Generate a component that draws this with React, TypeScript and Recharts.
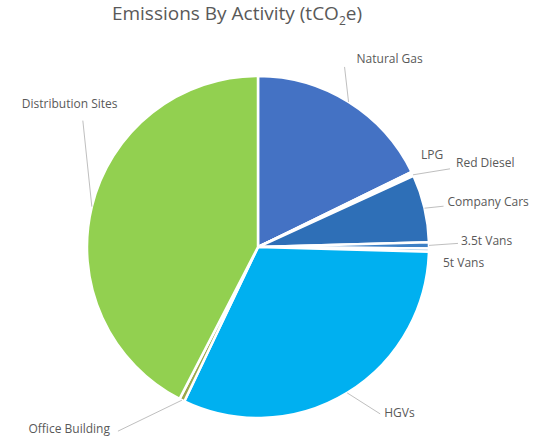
import { PieChart, Pie, Cell } from 'recharts';

const activities = [
  'Natural Gas',
  'LPG',
  'Red Diesel',
  'Company Cars',
  '3.5t Vans',
  '5t Vans',
  'HGVs',
  'Office Building',
  'Distribution Sites',
];

const emissions = [17.8, 0.2, 0.2, 6.4, 0.6, 0.3, 31.7, 0.5, 42.5];

const COLORS = [
  '#4472c4',
  '#ed7d31',
  '#a5a5a5',
  '#2e6fb7',
  '#3d80c6',
  '#5fa8e0',
  '#00b0f0',
  '#9aa84a',
  '#92d050',
];

// label placement: text offset (tx, ty) and leader line end (lx, ly) from the slice edge
const LABEL_LAYOUT: Record<string, { tx: number; ty: number; lx?: number; ly?: number; anchor: string }> = {
  'Natural Gas': { tx: 8, ty: -43, lx: -4, ly: -35, anchor: 'start' },
  LPG: { tx: 9, ty: -18, anchor: 'start' },
  'Red Diesel': { tx: 43, ty: -12, lx: 37, ly: -6, anchor: 'start' },
  'Company Cars': { tx: 23, ty: -7, lx: 19, ly: -2, anchor: 'start' },
  '3.5t Vans': { tx: 32, ty: -5, lx: 29, ly: -2, anchor: 'start' },
  '5t Vans': { tx: 14, ty: 12, anchor: 'start' },
  HGVs: { tx: 37, ty: 20, lx: 33, ly: 21, anchor: 'start' },
  'Office Building': { tx: -72, ty: 28, lx: -64, ly: 31, anchor: 'end' },
  'Distribution Sites': { tx: -70, ty: -103, lx: -9, ly: -86, anchor: 'start' },
};

const chartData = activities.map((name, i) => ({ name, value: emissions[i] }));

const RAD = Math.PI / 180;

const renderLabel = (props: any) => {
  const { cx, cy, midAngle, outerRadius, name } = props;
  const ex = cx + outerRadius * Math.cos(-midAngle * RAD);
  const ey = cy + outerRadius * Math.sin(-midAngle * RAD);
  const l = LABEL_LAYOUT[name];
  if (!l) return null;
  return (
    <g>
      {l.lx !== undefined && (
        <line x1={ex} y1={ey} x2={ex + l.lx} y2={ey + (l.ly ?? 0)} stroke="#bfbfbf" strokeWidth={1} />
      )}
      <text
        x={ex + l.tx}
        y={ey + l.ty}
        textAnchor={l.anchor}
        dominantBaseline="central"
        fill="#595959"
        fontSize={12}
        fontFamily="'Open Sans', sans-serif"
      >
        {name}
      </text>
    </g>
  );
};

const App = () => {
  return (
    <div style={{ position: 'absolute', left: 0, top: 0, width: 552, height: 440, background: '#fff' }}>
      <div
        style={{
          position: 'absolute',
          left: 0,
          top: 0,
          width: 474,
          textAlign: 'center',
          fontFamily: "'Open Sans', sans-serif",
          fontSize: 19,
          color: '#595959',
        }}
      >
        Emissions By Activity (tCO<sub style={{ fontSize: 12 }}>2</sub>e)
      </div>
      <PieChart width={552} height={440}>
        <Pie
          data={chartData}
          dataKey="value"
          nameKey="name"
          cx={253}
          cy={242}
          outerRadius={171}
          startAngle={90}
          endAngle={-270}
          stroke="#ffffff"
          strokeWidth={2.5}
          labelLine={false}
          label={renderLabel}
          isAnimationActive={false}
        >
          {chartData.map((entry, index) => (
            <Cell key={`cell-${index}`} fill={COLORS[index % COLORS.length]} />
          ))}
        </Pie>
      </PieChart>
    </div>
  );
};

export default App;
